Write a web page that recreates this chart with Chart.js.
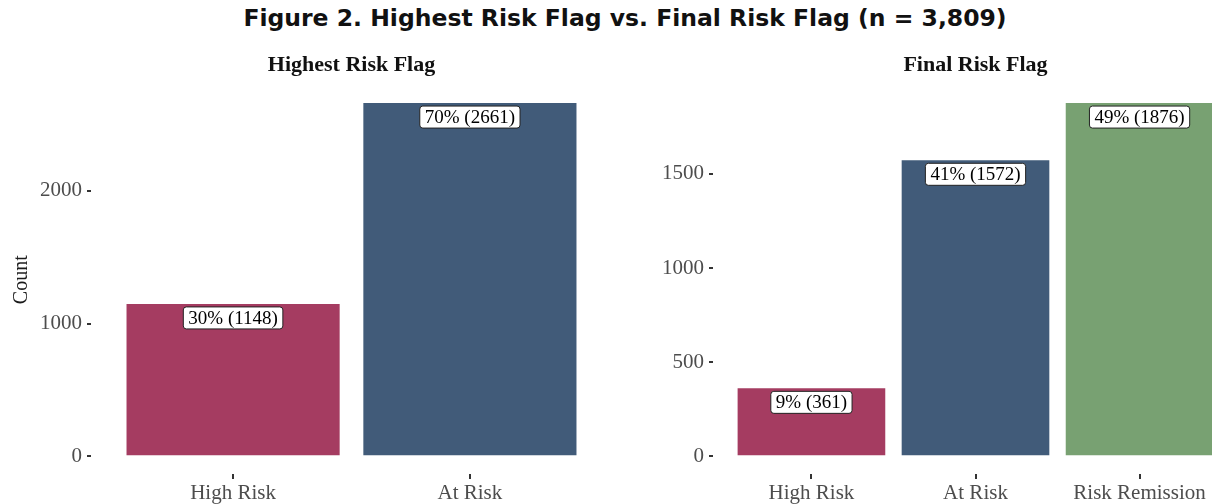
<!DOCTYPE html>
<html>
<head>
<meta charset="utf-8">
<script src="https://cdn.jsdelivr.net/npm/chart.js@4/dist/chart.umd.min.js"></script>
<style>
  html, body { margin: 0; padding: 0; background: #fff; overflow: hidden; width: 1212px; height: 504px; }
  #title { position: absolute; left: 0; top: 4px; width: 1250px; text-align: center;
           font: bold 23.5px "DejaVu Sans", sans-serif; color: #111; }
  #left { position: absolute; left: 0; top: 42px; }
  #right { position: absolute; left: 640px; top: 42px; }
</style>
</head>
<body>
<div id="title">Figure 2. Highest Risk Flag vs. Final Risk Flag (n = 3,809)</div>
<canvas id="left" width="640" height="464"></canvas>
<canvas id="right" width="620" height="464"></canvas>
<script>
// data
const highestCategories = ['High Risk', 'At Risk'];
const highestCounts = [1148, 2661];
const highestPct = [30, 70];
const highestTicks = [0, 1000, 2000];

const finalCategories = ['High Risk', 'At Risk', 'Risk Remission'];
const finalCounts = [361, 1572, 1876];
const finalPct = [9, 41, 49];
const finalTicks = [0, 500, 1000, 1500];

const flagColors = {
  'High Risk': '#a53c61',
  'At Risk': '#415b79',
  'Risk Remission': '#78a172'
};

const serif = '"Liberation Serif", "Times New Roman", serif';

// white rounded label boxes just under the top of each bar
const barLabels = {
  id: 'barLabels',
  afterDatasetsDraw(chart, args, opts) {
    const ctx = chart.ctx;
    const meta = chart.getDatasetMeta(0);
    ctx.save();
    ctx.font = '19px ' + serif;
    ctx.textAlign = 'center';
    ctx.textBaseline = 'middle';
    meta.data.forEach((bar, i) => {
      const txt = opts.pct[i] + '% (' + opts.counts[i] + ')';
      const w = ctx.measureText(txt).width + 10;
      const h = 22;
      const x = bar.x - w / 2;
      const y = bar.y + 3;
      ctx.beginPath();
      ctx.roundRect(x, y, w, h, 3);
      ctx.fillStyle = '#fff';
      ctx.fill();
      ctx.lineWidth = 1;
      ctx.strokeStyle = '#222';
      ctx.stroke();
      ctx.fillStyle = '#000';
      ctx.fillText(txt, bar.x, y + h / 2 + 1);
    });
    ctx.restore();
  }
};

function makeChart(id, title, categories, counts, pct, yTicks, yWidth, showYTitle, rightPad) {
  const top = Math.max(...counts);
  return new Chart(document.getElementById(id), {
    type: 'bar',
    data: {
      datasets: [{
        data: counts.map((v, i) => ({ x: i, y: v })),
        backgroundColor: categories.map(c => flagColors[c]),
        borderWidth: 0,
        categoryPercentage: 1,
        barPercentage: 0.9
      }]
    },
    plugins: [barLabels],
    options: {
      responsive: false,
      animation: false,
      layout: { padding: { right: rightPad, top: 0, bottom: 0, left: 0 } },
      plugins: {
        legend: { display: false },
        tooltip: { enabled: false },
        title: {
          display: true,
          text: title,
          fullSize: false,
          color: '#111',
          font: { family: serif, size: 22, weight: 'bold' },
          padding: { top: 10, bottom: 7 }
        },
        barLabels: { pct: pct, counts: counts }
      },
      scales: {
        x: {
          type: 'linear',
          offset: false,
          min: -0.6,
          max: categories.length - 0.4,
          afterBuildTicks: s => { s.ticks = categories.map((c, i) => ({ value: i })); },
          afterFit: s => { s.height = 32; },
          ticks: {
            callback: v => categories[v],
            color: '#4d4d4d',
            font: { family: serif, size: 21 },
            padding: 2,
            maxRotation: 0,
            autoSkip: false
          },
          grid: { offset: false, drawOnChartArea: false, drawTicks: true, tickLength: 5, color: '#333', lineWidth: 2 },
          border: { display: false }
        },
        y: {
          min: -top * 0.05,
          max: top * 1.05,
          afterBuildTicks: s => { s.ticks = yTicks.map(v => ({ value: v })); },
          afterFit: s => { s.width = yWidth; },
          ticks: {
            callback: v => String(v),
            color: '#4d4d4d',
            font: { family: serif, size: 21 },
            padding: 5
          },
          grid: { drawOnChartArea: false, drawTicks: true, tickLength: 4, color: '#333', lineWidth: 2 },
          border: { display: false },
          title: {
            display: showYTitle,
            text: 'Count',
            color: '#1a1a1a',
            font: { family: serif, size: 20 },
            padding: { top: 10, bottom: 8 }
          }
        }
      }
    }
  });
}

makeChart('left', 'Highest Risk Flag', highestCategories, highestCounts, highestPct, highestTicks, 91, true, 28);
makeChart('right', 'Final Risk Flag', finalCategories, finalCounts, finalPct, finalTicks, 73, false, 22);
</script>
</body>
</html>
